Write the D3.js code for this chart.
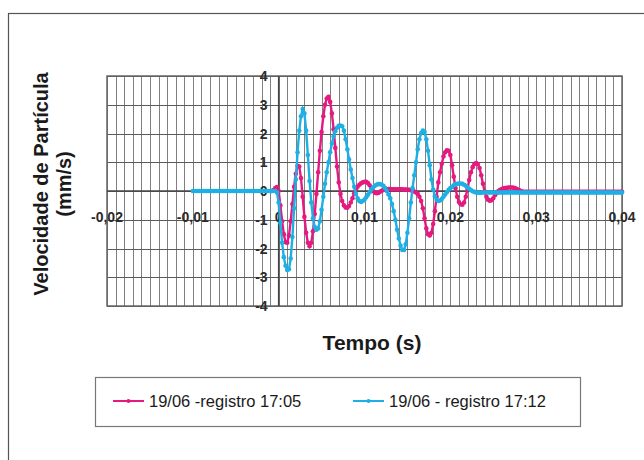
<!DOCTYPE html>
<html>
<head>
<meta charset="utf-8">
<script src="https://cdn.jsdelivr.net/npm/d3@7"></script>
<style>
body { margin: 0; background: #fff; }
svg { display: block; }
</style>
</head>
<body>
<svg id="chart" width="644" height="460"></svg>
<script>
// sampling step of both records (s)
var dt = 0.0002;
var pinkStart = -0.0008;
var cyanStart = -0.01;

// 19/06 - registro 17:05 (mm/s)
var pinkValues = [
  0, 0.03, 0.1, 0.14,
  0, -0.5, -1.05, -1.5, -1.78,
  -1.8, -1.55, -1.05, -0.45, 0.15,
  0.6, 0.88, 0.85, 0.45, -0.2,
  -0.9, -1.45, -1.8, -1.92, -1.8,
  -1.4, -0.8, -0.1, 0.65, 1.4,
  2.05, 2.6, 3.0, 3.22, 3.28,
  3.1, 2.7, 2.15, 1.5, 0.85,
  0.3, -0.1, -0.35, -0.5, -0.57,
  -0.58, -0.52, -0.4, -0.25, -0.08,
  0.05, 0.15, 0.22, 0.27, 0.3,
  0.32, 0.32, 0.28, 0.2, 0.1,
  0, -0.06, -0.08, -0.07, -0.03,
  0.01, 0.04, 0.06, 0.07, 0.07,
  0.07, 0.06, 0.06, 0.06, 0.06,
  0.06, 0.06, 0.06, 0.05, 0.05,
  0.05, 0.04, 0.03, 0.01, -0.02,
  -0.05, -0.1, -0.2, -0.35, -0.6,
  -0.95, -1.3, -1.5, -1.55, -1.45,
  -1.15, -0.7, -0.2, 0.3, 0.65,
  0.95, 1.2, 1.35, 1.42, 1.4,
  1.25, 0.9, 0.5, 0.1, -0.2,
  -0.38, -0.46, -0.48, -0.4, -0.2,
  0.08, 0.38, 0.65, 0.83, 0.94,
  0.97, 0.94, 0.8, 0.55, 0.25,
  -0.02, -0.2, -0.3, -0.34, -0.32,
  -0.25, -0.15, -0.07, 0, 0.04,
  0.07, 0.09, 0.1, 0.11, 0.12,
  0.12, 0.12, 0.11, 0.09, 0.06,
  0.03, 0, -0.02, -0.03, -0.03,
  -0.03, -0.03, -0.03, -0.03, -0.03, -0.03, -0.03, -0.03, -0.03, -0.03,
  -0.03, -0.03, -0.03, -0.03, -0.03, -0.03, -0.03, -0.03, -0.03, -0.03,
  -0.03, -0.03, -0.03, -0.03, -0.03, -0.03, -0.03, -0.03, -0.03, -0.03,
  -0.03, -0.03, -0.03, -0.03, -0.03, -0.03, -0.03, -0.03, -0.03, -0.03,
  -0.03, -0.03, -0.03, -0.03, -0.03, -0.03, -0.03, -0.03, -0.03, -0.03,
  -0.03, -0.03, -0.03, -0.03, -0.03, -0.03
];

// 19/06 - registro 17:12 (mm/s)
var cyanValues = [
  0, 0, 0, 0, 0, 0, 0, 0, 0, 0,
  0, 0, 0, 0, 0, 0, 0, 0, 0, 0,
  0, 0, 0, 0, 0, 0, 0, 0, 0, 0,
  0, 0, 0, 0, 0, 0, 0, 0, 0, 0,
  0, 0, 0, 0, 0, 0, 0, 0, 0,
  -0.05,
  -0.4, -1.1, -1.8, -2.3, -2.6,
  -2.75, -2.72, -2.35, -1.6, -0.6,
  0.4, 1.35, 2.1, 2.6, 2.85,
  2.7, 2.1, 1.25, 0.35, -0.4,
  -0.95, -1.25, -1.35, -1.3, -1.05,
  -0.65, -0.2, 0.25, 0.65, 1.0,
  1.35, 1.65, 1.9, 2.08, 2.2,
  2.27, 2.28, 2.25, 2.1, 1.8,
  1.45, 1.1, 0.75, 0.45, 0.15,
  -0.1, -0.25, -0.35, -0.38, -0.35,
  -0.3, -0.22, -0.13, -0.04, 0.05,
  0.12, 0.18, 0.22, 0.24, 0.24,
  0.22, 0.18, 0.1, 0, -0.12,
  -0.25, -0.45, -0.7, -1.0, -1.35,
  -1.65, -1.9, -2.05, -2.05, -1.85,
  -1.45, -0.95, -0.4, 0.1, 0.55,
  1.0, 1.45, 1.8, 2.02, 2.1,
  2.05, 1.8, 1.4, 0.9, 0.4,
  0.05, -0.18, -0.3, -0.35, -0.33,
  -0.28, -0.2, -0.12, -0.04, 0.04,
  0.1, 0.15, 0.2, 0.23, 0.25,
  0.26, 0.26, 0.25, 0.22, 0.18,
  0.13, 0.08, 0.03, -0.01, -0.03,
  -0.05, -0.06, -0.06, -0.06, -0.05,
  -0.05, -0.05, -0.05, -0.05, -0.05, -0.05, -0.05, -0.05, -0.05, -0.05,
  -0.05, -0.05, -0.05, -0.05, -0.05, -0.05, -0.05, -0.05, -0.05, -0.05,
  -0.05, -0.05, -0.05, -0.05, -0.05, -0.05, -0.05, -0.05, -0.05, -0.05,
  -0.05, -0.05, -0.05, -0.05, -0.05, -0.05, -0.05, -0.05, -0.05, -0.05,
  -0.05, -0.05, -0.05, -0.05, -0.05, -0.05, -0.05, -0.05, -0.05, -0.05,
  -0.05, -0.05, -0.05, -0.05, -0.05, -0.05, -0.05, -0.05, -0.05, -0.05,
  -0.05, -0.05, -0.05, -0.05, -0.05, -0.05, -0.05, -0.05, -0.05, -0.05,
  -0.05, -0.05, -0.05, -0.05, -0.05, -0.05, -0.05, -0.05, -0.05, -0.05,
  -0.05
];

var xTicks = [-0.02, -0.01, 0, 0.01, 0.02, 0.03, 0.04];
var yTicks = [-4, -3, -2, -1, 0, 1, 2, 3, 4];
var seriesNames = ["19/06 -registro 17:05", "19/06 - registro 17:12"];
var seriesColors = ["#e5197f", "#1eb0e4"];

var svg = d3.select("#chart");

// outer frame
svg.append("rect")
  .attr("x", 8.5).attr("y", 13.5)
  .attr("width", 700).attr("height", 500)
  .attr("fill", "none").attr("stroke", "#555").attr("stroke-width", 1.2);

var plotLeft = 107, plotRight = 622, plotTop = 76, plotBottom = 306;

var x = d3.scaleLinear().domain([-0.02, 0.04]).range([plotLeft, plotRight]);
var y = d3.scaleLinear().domain([-4, 4]).range([plotBottom, plotTop]);

// grid
var grid = svg.append("g");
grid.selectAll("line.v")
  .data(d3.range(-20, 41).map(function(k) { return k / 1000; }))
  .enter().append("line")
  .attr("x1", function(d) { return Math.round(x(d)) + 0.5; })
  .attr("x2", function(d) { return Math.round(x(d)) + 0.5; })
  .attr("y1", plotTop).attr("y2", plotBottom)
  .attr("stroke", "#808080").attr("stroke-width", 1);
grid.selectAll("line.h")
  .data(yTicks)
  .enter().append("line")
  .attr("x1", plotLeft).attr("x2", plotRight)
  .attr("y1", function(d) { return Math.round(y(d)) + 0.5; })
  .attr("y2", function(d) { return Math.round(y(d)) + 0.5; })
  .attr("stroke", "#5a5a5a").attr("stroke-width", 1);

svg.append("rect")
  .attr("x", plotLeft).attr("y", plotTop)
  .attr("width", plotRight - plotLeft).attr("height", plotBottom - plotTop)
  .attr("fill", "none").attr("stroke", "#666").attr("stroke-width", 1.5);

// axes through the origin
svg.append("line")
  .attr("x1", plotLeft).attr("x2", plotRight)
  .attr("y1", y(0)).attr("y2", y(0))
  .attr("stroke", "#444").attr("stroke-width", 1.5);
svg.append("line")
  .attr("x1", x(0)).attr("x2", x(0))
  .attr("y1", plotTop).attr("y2", plotBottom)
  .attr("stroke", "#444").attr("stroke-width", 1.5);

// tick labels
svg.selectAll("text.xt")
  .data(xTicks)
  .enter().append("text")
  .attr("x", function(d) { return x(d); })
  .attr("y", y(0) + 31)
  .attr("text-anchor", "middle")
  .attr("font-family", "Liberation Sans, Arial, sans-serif")
  .attr("font-weight", "bold")
  .attr("font-size", 14)
  .attr("fill", "#2b2b2b")
  .text(function(d) { return d === 0 ? "0" : String(d).replace(".", ","); });

svg.selectAll("text.yt")
  .data(yTicks)
  .enter().append("text")
  .attr("x", x(0) - 11)
  .attr("y", function(d) { return y(d) + 5; })
  .attr("text-anchor", "end")
  .attr("font-family", "Liberation Sans, Arial, sans-serif")
  .attr("font-weight", "bold")
  .attr("font-size", 14)
  .attr("fill", "#2b2b2b")
  .text(function(d) { return String(d); });

// series
var series = [
  { values: pinkValues, start: pinkStart, color: seriesColors[0] },
  { values: cyanValues, start: cyanStart, color: seriesColors[1] }
];

var line = d3.line()
  .x(function(d) { return x(d[0]); })
  .y(function(d) { return y(d[1]); });

series.forEach(function(s) {
  var pts = s.values.map(function(v, i) { return [s.start + i * dt, v]; });
  var g = svg.append("g");
  g.append("path")
    .datum(pts)
    .attr("d", line)
    .attr("fill", "none")
    .attr("stroke", s.color)
    .attr("stroke-width", 2.4);
  g.selectAll("circle")
    .data(pts)
    .enter().append("circle")
    .attr("cx", function(d) { return x(d[0]); })
    .attr("cy", function(d) { return y(d[1]); })
    .attr("r", 2.3)
    .attr("fill", s.color);
});

// axis titles
svg.append("text")
  .attr("x", 372).attr("y", 350)
  .attr("text-anchor", "middle")
  .attr("font-family", "Liberation Sans, Arial, sans-serif")
  .attr("font-weight", "bold")
  .attr("font-size", 21)
  .attr("fill", "#1a1a1a")
  .text("Tempo (s)");

var yTitle = svg.append("text")
  .attr("transform", "translate(48,184) rotate(-90)")
  .attr("text-anchor", "middle")
  .attr("font-family", "Liberation Sans, Arial, sans-serif")
  .attr("font-weight", "bold")
  .attr("font-size", 20)
  .attr("fill", "#1a1a1a");
yTitle.append("tspan").attr("x", 0).attr("dy", 0).text("Velocidade de Partícula");
yTitle.append("tspan").attr("x", 0).attr("dy", 23).text("(mm/s)");

// legend
svg.append("rect")
  .attr("x", 95.5).attr("y", 377.5)
  .attr("width", 485).attr("height", 49)
  .attr("fill", "#fff").attr("stroke", "#777").attr("stroke-width", 1.2);

var legendX = [113, 353];
seriesNames.forEach(function(name, i) {
  var lg = svg.append("g").attr("transform", "translate(" + legendX[i] + ",401)");
  lg.append("line")
    .attr("x1", 0).attr("x2", 31)
    .attr("y1", 0).attr("y2", 0)
    .attr("stroke", seriesColors[i]).attr("stroke-width", 2);
  lg.append("circle")
    .attr("cx", 15.5).attr("cy", 0).attr("r", 2)
    .attr("fill", seriesColors[i]);
  lg.append("text")
    .attr("x", 36).attr("y", 6)
    .attr("font-family", "Liberation Sans, Arial, sans-serif")
    .attr("font-size", 16.5)
    .attr("fill", "#1a1a1a")
    .text(name);
});
</script>
</body>
</html>
